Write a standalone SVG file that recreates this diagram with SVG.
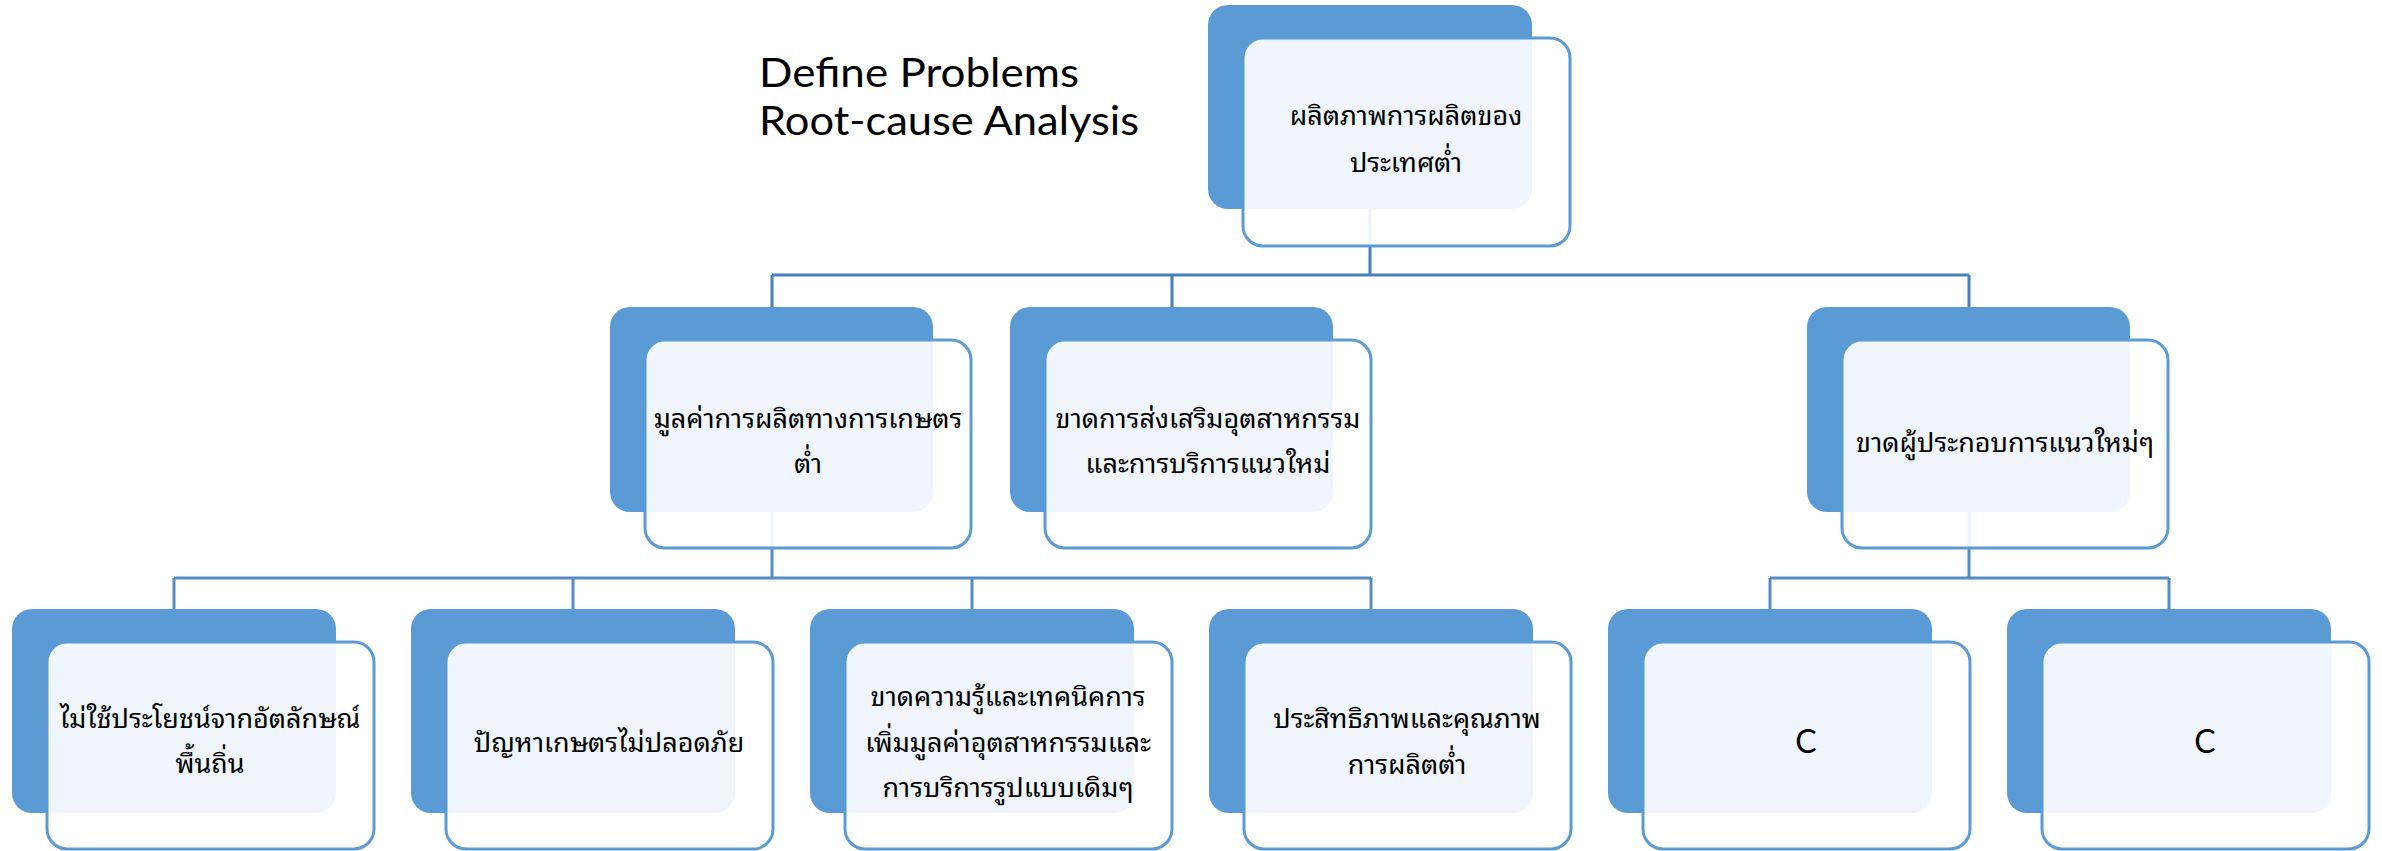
<svg xmlns="http://www.w3.org/2000/svg" width="2382" height="851" viewBox="0 0 2382 851">
  <style>
    .back { fill: #5B9BD5; }
    .front { fill: #FFFFFF; fill-opacity: 0.9; stroke: #5B9BD5; stroke-width: 3; }
    .lbl { font-family: "Noto Sans Thai Looped", "Tahoma", "Noto Sans Thai", "DejaVu Sans", "Noto Sans", sans-serif; font-size: 27px; fill: #000000; text-anchor: middle; }
    .latin { font-family: Lato, "Liberation Sans", sans-serif; fill: #000000; }
    .conn1 { fill: none; stroke: #4A7EBB; stroke-width: 3; }
    .conn2 { fill: none; stroke: #568CC6; stroke-width: 3; }
  </style>

  <g id="title">
    <text class="latin" x="759" y="87" font-size="40" textLength="320" lengthAdjust="spacingAndGlyphs">Define Problems</text>
    <text class="latin" x="759" y="135" font-size="40" textLength="380" lengthAdjust="spacingAndGlyphs">Root-cause Analysis</text>
  </g>

  <g id="connectors">
    <path class="conn1" d="M1370 209 V275 M772 275 H1969 M772 275 V307 M1172 275 V307 M1969 275 V307"/>
    <path class="conn2" d="M772 512 V578 M174 578 H1371 M174 578 V609 M573 578 V609 M972 578 V609 M1371 578 V609"/>
    <path class="conn2" d="M1969 512 V578 M1770 578 H2169 M1770 578 V609 M2169 578 V609"/>
  </g>

  <g id="node-root">
    <rect class="back" x="1208" y="5" width="324" height="204" rx="20"/>
    <rect class="front" x="1243" y="38" width="327" height="208" rx="20"/>
    <text class="lbl" x="1406" y="125">ผลิตภาพการผลิตของ</text>
    <text class="lbl" x="1406" y="172">ประเทศต่ำ</text>
  </g>

  <g id="node-agri-value">
    <rect class="back" x="610" y="307" width="323" height="205" rx="20"/>
    <rect class="front" x="645" y="340" width="326" height="208" rx="20"/>
    <text class="lbl" x="808" y="428">มูลค่าการผลิตทางการเกษตร</text>
    <text class="lbl" x="808" y="473">ต่ำ</text>
  </g>

  <g id="node-industry-promo">
    <rect class="back" x="1010" y="307" width="323" height="205" rx="20"/>
    <rect class="front" x="1045" y="340" width="326" height="208" rx="20"/>
    <text class="lbl" x="1208" y="428">ขาดการส่งเสริมอุตสาหกรรม</text>
    <text class="lbl" x="1208" y="473">และการบริการแนวใหม่</text>
  </g>

  <g id="node-entrepreneurs">
    <rect class="back" x="1807" y="307" width="323" height="205" rx="20"/>
    <rect class="front" x="1842" y="340" width="326" height="208" rx="20"/>
    <text class="lbl" x="2005" y="452">ขาดผู้ประกอบการแนวใหม่ๆ</text>
  </g>

  <g id="node-local-identity">
    <rect class="back" x="12" y="609" width="324" height="204" rx="20"/>
    <rect class="front" x="47" y="642" width="327" height="207" rx="20"/>
    <text class="lbl" x="210" y="728">ไม่ใช้ประโยชน์จากอัตลักษณ์</text>
    <text class="lbl" x="210" y="773">พื้นถิ่น</text>
  </g>

  <g id="node-farm-safety">
    <rect class="back" x="411" y="609" width="324" height="204" rx="20"/>
    <rect class="front" x="446" y="642" width="327" height="207" rx="20"/>
    <text class="lbl" x="609" y="752">ปัญหาเกษตรไม่ปลอดภัย</text>
  </g>

  <g id="node-knowledge">
    <rect class="back" x="810" y="609" width="324" height="204" rx="20"/>
    <rect class="front" x="845" y="642" width="327" height="207" rx="20"/>
    <text class="lbl" x="1008" y="706">ขาดความรู้และเทคนิคการ</text>
    <text class="lbl" x="1008" y="752">เพิ่มมูลค่าอุตสาหกรรมและ</text>
    <text class="lbl" x="1008" y="797">การบริการรูปแบบเดิมๆ</text>
  </g>

  <g id="node-efficiency">
    <rect class="back" x="1209" y="609" width="324" height="204" rx="20"/>
    <rect class="front" x="1244" y="642" width="327" height="207" rx="20"/>
    <text class="lbl" x="1407" y="728">ประสิทธิภาพและคุณภาพ</text>
    <text class="lbl" x="1407" y="774">การผลิตต่ำ</text>
  </g>

  <g id="node-c1">
    <rect class="back" x="1608" y="609" width="324" height="204" rx="20"/>
    <rect class="front" x="1643" y="642" width="327" height="207" rx="20"/>
    <text class="latin" x="1806" y="753" font-size="32" text-anchor="middle">C</text>
  </g>

  <g id="node-c2">
    <rect class="back" x="2007" y="609" width="324" height="204" rx="20"/>
    <rect class="front" x="2042" y="642" width="327" height="207" rx="20"/>
    <text class="latin" x="2205" y="753" font-size="32" text-anchor="middle">C</text>
  </g>
</svg>
